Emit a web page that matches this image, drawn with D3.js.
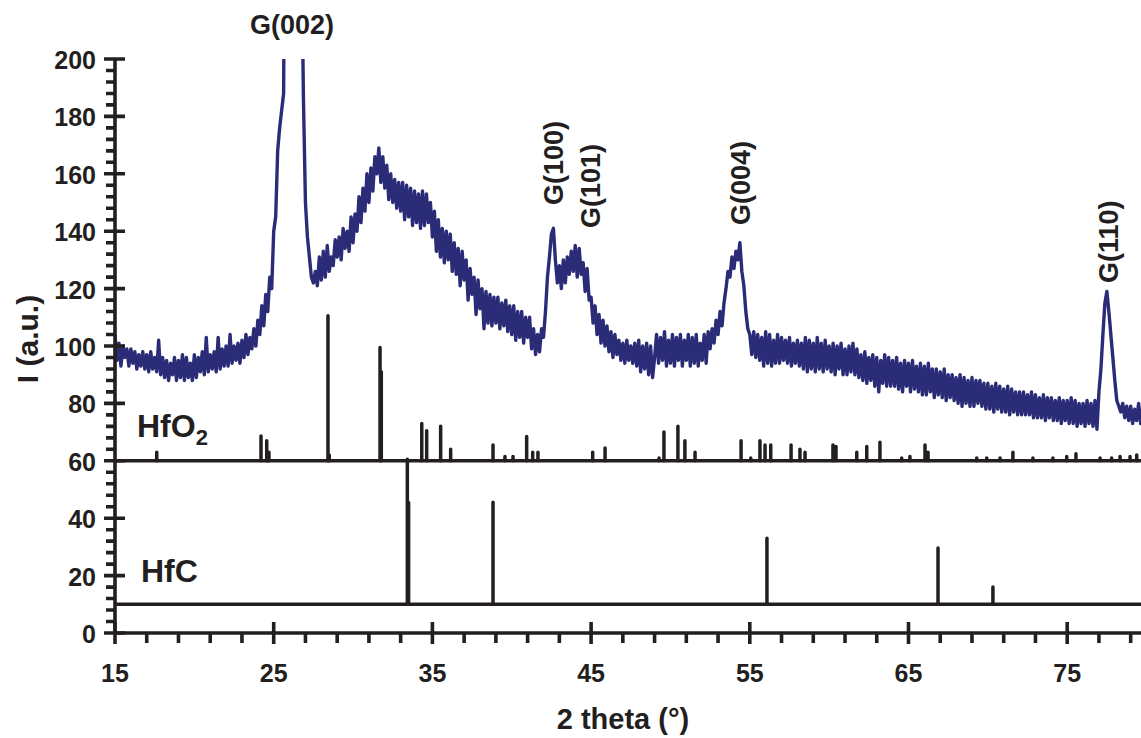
<!DOCTYPE html>
<html><head><meta charset="utf-8">
<script src="https://cdn.jsdelivr.net/npm/d3@7"></script>
<style>
body{margin:0;background:#fff}
svg{display:block}
text{font-family:"Liberation Sans",Arial,Helvetica,sans-serif;font-weight:bold;fill:#231f20}
</style>
</head><body>
<svg id="chart" width="1141" height="738"></svg>
<script>
// ---- data ----
const scanStart = 15, scanStep = 0.125;   // 2theta sampling grid (8 readings per degree)
const scanIntensity = [
104,95,101,93,100,96,99,93,99,94,98,92,97,93,98,92,97,91,98,92,96,91,102,90,96,89,95,88,94,90,96,88,
95,89,97,88,96,89,94,88,97,89,96,91,98,90,103,91,97,92,98,91,103,92,99,93,100,93,104,94,100,95,101,94,
102,96,104,97,103,99,106,100,109,104,114,107,118,112,124,120,140,145,168,176,182,188,320,500,
700,800,800,700,600,520,240,186,150,138,131,124,122,126,121,131,123,133,124,135,126,131,128,137,
131,138,130,141,134,140,133,145,136,146,140,152,143,155,147,160,150,162,154,166,160,169,157,166,
155,163,151,160,150,158,148,157,147,157,144,156,145,155,142,154,143,153,141,154,142,153,143,150,
138,147,133,144,131,141,129,140,130,139,126,136,125,134,121,133,123,130,116,127,118,124,111,123,
113,120,106,119,108,118,107,117,108,117,106,115,107,116,105,114,104,114,102,112,103,112,101,110,
103,110,99,106,97,104,98,106,103,112,124,131,139,141,130,122,128,120,130,122,131,125,133,126,
135,124,134,125,129,119,127,116,117,108,114,104,111,101,109,100,107,98,105,96,104,97,102,95,
101,94,102,95,100,94,101,93,102,91,100,92,101,90,100,89,96,104,94,103,95,105,93,102,
94,104,93,103,95,104,93,102,95,104,93,103,94,104,93,101,95,104,94,105,99,106,101,109,
104,112,107,115,120,126,124,131,127,133,130,136,126,121,112,106,104,97,105,96,104,95,103,93,
105,94,104,93,102,94,104,94,103,95,102,94,103,93,101,94,102,93,101,92,103,91,102,92,
101,91,103,92,101,91,102,92,100,91,101,90,100,92,101,90,99,90,100,91,101,90,99,89,
97,88,98,87,96,88,97,86,96,84,95,87,97,86,96,86,95,86,96,85,94,84,95,86,94,84,95,85,93,84,94,83,
93,83,94,84,92,82,92,83,91,82,92,81,90,82,90,81,89,80,90,79,89,80,88,79,89,79,88,80,88,79,87,78,
87,78,86,77,87,78,86,77,85,77,86,76,85,77,84,76,84,76,84,76,83,76,84,75,83,75,82,75,83,74,82,75,
82,74,81,74,82,73,81,74,81,73,82,73,81,72,80,73,80,72,81,73,80,72,81,71,84,92,104,115,119,112,104,96,
88,81,79,77,80,75,79,74,79,73,78,74,80,73,78,72
];
const hfo2Theta = [17.63,24.2,24.56,24.7,28.42,28.5,31.7,31.78,34.33,34.64,35.52,36.15,38.82,39.57,40.08,40.94,41.32,41.65,45.1,45.88,49.28,49.59,50.47,50.91,51.55,54.45,55.06,55.64,55.96,56.32,57.6,58.16,58.48,60.24,60.43,61.74,62.37,63.2,64.57,65.09,66.04,66.23,69.3,69.93,70.77,71.58,72.84,74.1,74.97,75.55,77.07,77.8,78.33,78.96,79.38];
const hfo2Top   = [63,68.6,67,63,110.5,62,99.5,91,73,70.5,72,64,65.5,61.5,61.5,68.5,63,63,63,64.5,61,70,72,67,63,67,61,67,65.5,65.5,65.5,64,63,65.5,65,63,65,66.5,61,61.5,65.5,63,61,61,61,63,61,61,61.5,62.5,61,61,61.5,61.5,62];
const hfcTheta = [33.42,33.5,38.82,56.08,66.86,70.32];
const hfcTop   = [60.5,45.5,45.6,33,29.6,16];
const hfo2Base = 60, hfcBase = 10;
const xMajor = [15,25,35,45,55,65,75];
const xMinor = [17,19,21,23,27,29,31,33,37,39,41,43,47,49,51,53,57,59,61,63,67,69,71,73,77,79];
const yMajor = [0,20,40,60,80,100,120,140,160,180,200];
const yMinor = [4,8,12,16,24,28,32,36,44,48,52,56,64,68,72,76,84,88,92,96,104,108,112,116,124,128,132,136,144,148,152,156,164,168,172,176,184,188,192,196];
const peakNames = ["G(002)","G(100)","G(101)","G(004)","G(110)"];

// ---- drawing ----
const svg = d3.select("#chart");
const ink = "#231f20", navy = "#2a2c78";
const x = d3.scaleLinear().domain([15,80]).range([115, 115 + 65*15.87]);
const y = d3.scaleLinear().domain([0,200]).range([633, 59]);
const X0 = x(15), Y0 = y(0);

svg.append("defs").append("clipPath").attr("id","plotclip")
  .append("rect").attr("x",X0).attr("y",y(200)).attr("width",1141-X0).attr("height",Y0-y(200));

// reference-pattern baselines
[hfo2Base,hfcBase].forEach(b=>{
  svg.append("path").attr("d",`M${X0},${y(b)}H1141`)
    .attr("fill","none").attr("stroke",ink).attr("stroke-width",3.5);
});

// sticks
const stickPath = (thetas, tops, base) =>
  thetas.map((t,i)=>`M${x(t)},${y(base)}V${y(tops[i])}`).join("");
svg.append("path").attr("d",stickPath(hfo2Theta,hfo2Top,hfo2Base))
  .attr("fill","none").attr("stroke",ink).attr("stroke-width",3.5).attr("stroke-linecap","round");
svg.append("path").attr("d",stickPath(hfcTheta,hfcTop,hfcBase))
  .attr("fill","none").attr("stroke",ink).attr("stroke-width",3.5).attr("stroke-linecap","round");

// scan curve
const scan = scanIntensity.map((v,i)=>[scanStart + i*scanStep, v]);
svg.append("path").datum(scan).attr("clip-path","url(#plotclip)")
  .attr("d", d3.line().x(d=>x(d[0])).y(d=>y(d[1])))
  .attr("fill","none").attr("stroke",navy).attr("stroke-width",3.4).attr("stroke-linejoin","round");

// axes with ticks, positioned by the scales
const xAxisD = `M${X0-1.5},${Y0}H1141` +
  xMajor.map(v=>`M${x(v)},${Y0-11}V${Y0+11}`).join("") +
  xMinor.map(v=>`M${x(v)},${Y0}V${Y0+10}`).join("");
const yAxisD = `M${X0},${y(200)-1.5}V${Y0+1.5}` +
  yMajor.map(v=>`M${X0-11},${y(v)}H${X0+10}`).join("") +
  yMinor.map(v=>`M${X0-9},${y(v)}H${X0}`).join("");
svg.append("path").attr("d",xAxisD).attr("fill","none").attr("stroke",ink).attr("stroke-width",3.6);
svg.append("path").attr("d",yAxisD).attr("fill","none").attr("stroke",ink).attr("stroke-width",3.6);

svg.selectAll("text.xl").data(xMajor).join("text").attr("class","xl")
  .attr("x",d=>x(d)).attr("y",682).attr("text-anchor","middle").attr("font-size",25).text(d=>d);
svg.selectAll("text.yl").data(yMajor).join("text").attr("class","yl")
  .attr("x",96).attr("y",d=>y(d)+10).attr("text-anchor","end").attr("font-size",25).text(d=>d);

// axis titles
svg.append("text").attr("x",623).attr("y",729).attr("text-anchor","middle").attr("font-size",29).text("2 theta (°)");
svg.append("text").attr("transform",`translate(38,339) rotate(-90)`).attr("text-anchor","middle").attr("font-size",30).text("I (a.u.)");

// phase labels
const l1 = svg.append("text").attr("x",137).attr("y",437).attr("font-size",32);
l1.append("tspan").text("HfO");
l1.append("tspan").attr("font-size",22).attr("dy",8).text("2");
svg.append("text").attr("x",141).attr("y",582).attr("font-size",32).text("HfC");

// peak labels
svg.append("text").attr("x",292).attr("y",34).attr("text-anchor","middle").attr("font-size",27).text(peakNames[0]);
const rot = [[563,205],[600,228],[750,225],[1118,283]];
rot.forEach((p,i)=>{
  svg.append("text").attr("transform",`translate(${p[0]},${p[1]}) rotate(-90)`).attr("font-size",27).text(peakNames[i+1]);
});
</script>
</body></html>
